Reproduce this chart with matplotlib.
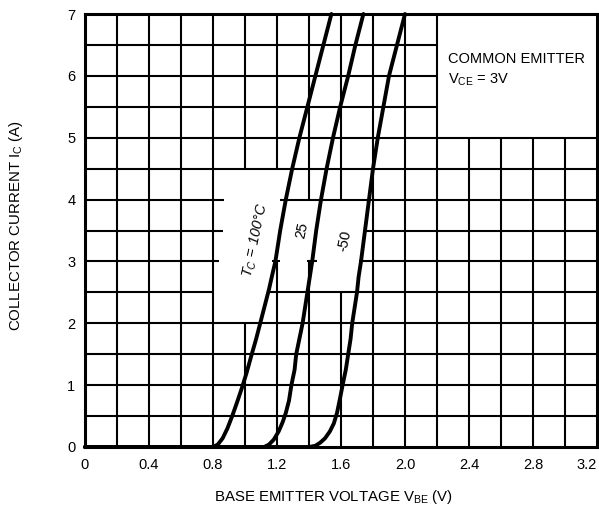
import numpy as np
import matplotlib
matplotlib.use("Agg")
from matplotlib import pyplot as plt

plt.rcParams['font.family'] = ['Liberation Sans', 'DejaVu Sans']
plt.rcParams['mathtext.fontset'] = 'custom'
plt.rcParams['mathtext.rm'] = 'Liberation Sans'
plt.rcParams['mathtext.it'] = 'Liberation Sans:italic'

# curve data (V_BE in volts, I_C in amps)
vbe_100 = [0, 0.80, 0.83, 0.86, 0.89, 0.92, 0.95, 0.98, 1.01, 1.04, 1.07, 1.10,
           1.125, 1.15, 1.17, 1.19, 1.22, 1.255, 1.295, 1.34, 1.39, 1.44, 1.49, 1.54]
ic_100 = [0, 0, 0.04, 0.14, 0.3, 0.5, 0.72, 0.95, 1.2, 1.48, 1.75, 2.05,
          2.3, 2.55, 2.78, 3.0, 3.5, 4.0, 4.5, 5.0, 5.5, 6.0, 6.5, 7.0]

vbe_25 = [0, 1.12, 1.15, 1.18, 1.21, 1.235, 1.255, 1.275, 1.29, 1.31, 1.32, 1.34, 1.36,
          1.375, 1.39, 1.405, 1.42, 1.445, 1.475, 1.51, 1.55, 1.595, 1.645, 1.69, 1.74]
ic_25 = [0, 0, 0.04, 0.12, 0.25, 0.4, 0.55, 0.75, 1.0, 1.25, 1.5, 1.75, 2.0,
         2.25, 2.5, 2.75, 3.0, 3.5, 4.0, 4.5, 5.0, 5.5, 6.0, 6.5, 7.0]

vbe_m50 = [0, 1.40, 1.44, 1.47, 1.50, 1.53, 1.555, 1.575, 1.595, 1.61, 1.63, 1.645, 1.66,
           1.67, 1.685, 1.70, 1.71, 1.725, 1.75, 1.775, 1.80, 1.83, 1.865, 1.90, 1.95, 2.00]
ic_m50 = [0, 0, 0.02, 0.07, 0.14, 0.25, 0.38, 0.55, 0.8, 1.0, 1.25, 1.5, 1.75,
          2.0, 2.25, 2.5, 2.75, 3.0, 3.5, 4.0, 4.5, 5.0, 5.5, 6.0, 6.5, 7.0]

xticks = [0, 0.4, 0.8, 1.2, 1.6, 2.0, 2.4, 2.8, 3.2]
xticklabels = ['0', '0.4', '0.8', '1.2', '1.6', '2.0', '2.4', '2.8', '3.2']
yticks = [0, 1, 2, 3, 4, 5, 6, 7]

fig = plt.figure(figsize=(5.99, 5.17), dpi=100)
ax = fig.add_axes([85/599, 1-447/517, 512/599, 433/517])
ax.set_xlim(0, 3.2)
ax.set_ylim(0, 7)

# grid, with the gaps the original leaves for labels and the note box
vgaps = {1.0: [(0, 2.0), (4.5, 7)],
         1.2: [(0, 3.0), (4.5, 7)],
         1.4: [(0, 3.0), (4.0, 7)],
         1.6: [(0, 2.5), (4.0, 7)],
         2.4: [(0, 5)], 2.6: [(0, 5)], 2.8: [(0, 5)], 3.0: [(0, 5)]}
hgaps = {2.5: [(0, 0.8), (1.15, 3.2)],
         3.0: [(0, 0.84), (1.17, 1.22), (1.39, 1.45), (1.71, 3.2)],
         3.5: [(0, 0.86), (1.75, 3.2)],
         4.0: [(0, 0.87), (1.22, 3.2)],
         5.5: [(0, 2.2)], 6.0: [(0, 2.2)], 6.5: [(0, 2.2)]}

glw = 1.5
for i in range(1, 16):
    x = round(i * 0.2, 1)
    for a, b in vgaps.get(x, [(0, 7)]):
        ax.vlines(x, a, b, color='black', lw=glw)
for i in range(1, 14):
    y = i * 0.5
    for a, b in hgaps.get(y, [(0, 3.2)]):
        ax.hlines(y, a, b, color='black', lw=glw)

for xs, ys in [(vbe_100, ic_100), (vbe_25, ic_25), (vbe_m50, ic_m50)]:
    ax.plot(xs, ys, color='black', lw=2.8, solid_capstyle='round',
            solid_joinstyle='round', clip_on=False)

for s in ax.spines.values():
    s.set_linewidth(2.2)

ax.set_xticks(xticks)
ax.set_xticklabels(xticklabels)
ax.set_yticks(yticks)
ax.tick_params(length=0, labelsize=10.5)
ax.tick_params(axis='x', pad=8)
ax.tick_params(axis='y', pad=7)
ax.get_xticklabels()[-1].set_horizontalalignment('right')

ax.text(2.27, 6.28, 'COMMON EMITTER', fontsize=10.5, va='center', ha='left')
ax.text(2.27, 5.93, r'V$_{\mathrm{CE}}$ = 3V', fontsize=10.5, va='center', ha='left')

ax.text(1.07, 3.34, r'$T_C$ = 100°C', fontsize=10.5, style='italic', rotation=78,
        ha='center', va='center', rotation_mode='anchor')
ax.text(1.354, 3.5, '25', fontsize=10.5, rotation=78,
        ha='center', va='center', rotation_mode='anchor')
ax.text(1.625, 3.34, '-50', fontsize=10.5, rotation=78,
        ha='center', va='center', rotation_mode='anchor')

fig.text(334/599, 1-497/517, r'BASE EMITTER VOLTAGE V$_{\mathrm{BE}}$ (V)',
         fontsize=10.8, ha='center', va='center')
fig.text(16/599, 1-226/517, r'COLLECTOR CURRENT I$_{\mathrm{C}}$ (A)',
         fontsize=10.8, ha='center', va='center', rotation=90)

fig.savefig('out.png', dpi=100)
